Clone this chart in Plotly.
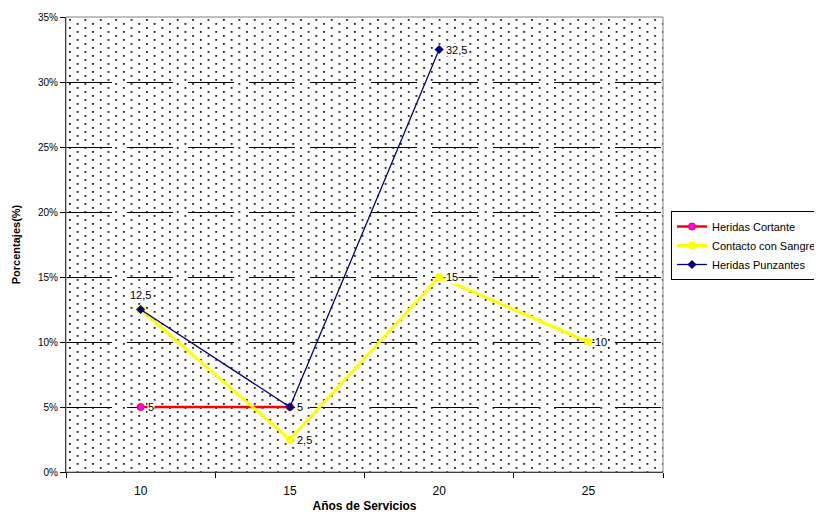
import base64
import plotly.graph_objects as go

# ---- data ----
years = ["10", "15", "20", "25"]
heridas_cortante = [5, 5, None, None]
contacto_sangre = [12.5, 2.5, 15, 10]
heridas_punzantes = [12.5, 5, 32.5, None]
y_tick_values = [0, 5, 10, 15, 20, 25, 30, 35]
y_tick_labels = ["0%", "5%", "10%", "15%", "20%", "25%", "30%", "35%"]

# label placement per series (style, not data)
label_pos = {
    "cortante": ["right", "right", None, None],
    "sangre": [None, "right", "right", "right"],
    "punzantes": ["top", "right", "right", None],
}

FONT = "Liberation Sans, Arial, sans-serif"

# The page body has an 8px margin, so the figure is sized/offset to compensate.
OFF = 8
W, H = 822 - OFF, 515 - OFF
L, T = 66 - OFF, 17 - OFF
R, B = 159, 43
PW, PH = W - L - R, H - T - B

# dotted background pattern (Excel-like 'small dots' fill)
svg = (
    f'<svg xmlns="http://www.w3.org/2000/svg" width="{PW}" height="{PH}" '
    f'viewBox="0 0 {PW} {PH}" preserveAspectRatio="none">'
    '<defs><pattern id="p" x="3" y="2" width="15.4" height="8" patternUnits="userSpaceOnUse">'
    '<rect x="0" y="0" width="1.8" height="1.8" fill="#1e1e1e"/>'
    '<rect x="7.7" y="4" width="1.8" height="1.8" fill="#1e1e1e"/>'
    '</pattern></defs>'
    f'<rect width="{PW}" height="{PH}" fill="#ffffff"/>'
    f'<rect width="{PW}" height="{PH}" fill="url(#p)"/></svg>'
)
svg_uri = "data:image/svg+xml;base64," + base64.b64encode(svg.encode()).decode()

fig = go.Figure()

fig.add_trace(go.Scatter(
    x=years, y=heridas_cortante, name="Heridas Cortante", mode="lines+markers",
    line=dict(color="#FF0000", width=2.5),
    marker=dict(symbol="circle", size=7, color="#FF00FF", line=dict(color="#FF0000", width=1)),
    connectgaps=False,
))
fig.add_trace(go.Scatter(
    x=years, y=contacto_sangre, name="Contacto con Sangre", mode="lines+markers",
    line=dict(color="#FFFF00", width=3),
    marker=dict(symbol="circle", size=8, color="#FFFF00"),
))
fig.add_trace(go.Scatter(
    x=years, y=heridas_punzantes, name="Heridas Punzantes", mode="lines+markers",
    line=dict(color="#000080", width=1.3),
    marker=dict(symbol="diamond", size=7, color="#000080"),
    connectgaps=False,
))


def fmt(v):
    return ("%g" % v).replace(".", ",")


annotations = []
for key, vals in (("cortante", heridas_cortante), ("sangre", contacto_sangre),
                  ("punzantes", heridas_punzantes)):
    for i, v in enumerate(vals):
        pos = label_pos[key][i]
        if v is None or pos is None:
            continue
        a = dict(x=i, y=v, xref="x", yref="y", text=fmt(v), showarrow=False,
                 font=dict(family=FONT, size=11, color="#000000"),
                 bgcolor="#ffffff", borderpad=0)
        if pos == "right":
            a.update(xanchor="left", yanchor="middle", xshift=6)
        else:
            a.update(xanchor="center", yanchor="bottom", yshift=8)
        annotations.append(a)

fig.update_layout(
    width=W, height=H,
    margin=dict(l=L, r=R, t=T, b=B, autoexpand=False),
    paper_bgcolor="#ffffff",
    plot_bgcolor="#ffffff",
    font=dict(family=FONT, size=11, color="#000000"),
    showlegend=True,
    legend=dict(
        xref="container", yref="container", x=(671 - OFF) / W, y=1 - (211 - OFF) / H,
        xanchor="left", yanchor="top",
        bgcolor="#ffffff", bordercolor="#000000", borderwidth=1,
        font=dict(family=FONT, size=11, color="#000000"),
        tracegroupgap=0,
    ),
    images=[dict(source=svg_uri, xref="paper", yref="paper", x=0, y=1,
                 sizex=1, sizey=1, xanchor="left", yanchor="top",
                 sizing="stretch", layer="below")],
    annotations=annotations,
    shapes=[dict(type="rect", xref="paper", yref="paper", x0=0, y0=0, x1=1, y1=1,
                 line=dict(color="#808080", width=1), layer="above")],
)

fig.update_xaxes(
    type="category", categoryorder="array", categoryarray=years,
    range=[-0.5, 3.5], tickson="boundaries",
    ticks="outside", ticklen=5, tickcolor="#000000", ticklabelstandoff=8,
    showline=True, linecolor="#000000", linewidth=1,
    showgrid=False, zeroline=False,
    tickfont=dict(family=FONT, size=12, color="#000000"),
    title=dict(text="<b>Años de Servicios</b>", font=dict(family=FONT, size=12, color="#000000"), standoff=4),
)
fig.update_yaxes(
    range=[0, 35], tickmode="array", tickvals=y_tick_values, ticktext=y_tick_labels,
    ticks="outside", ticklen=5, tickcolor="#000000",
    showline=True, linecolor="#000000", linewidth=1,
    showgrid=True, gridcolor="#000000", gridwidth=1, griddash="46px,15px",
    zeroline=False,
    tickfont=dict(family=FONT, size=10, color="#000000"),
    title=dict(text="<b>Porcentajes(%)</b>", font=dict(family=FONT, size=11, color="#000000"), standoff=15),
)

fig.write_html("out.html")
